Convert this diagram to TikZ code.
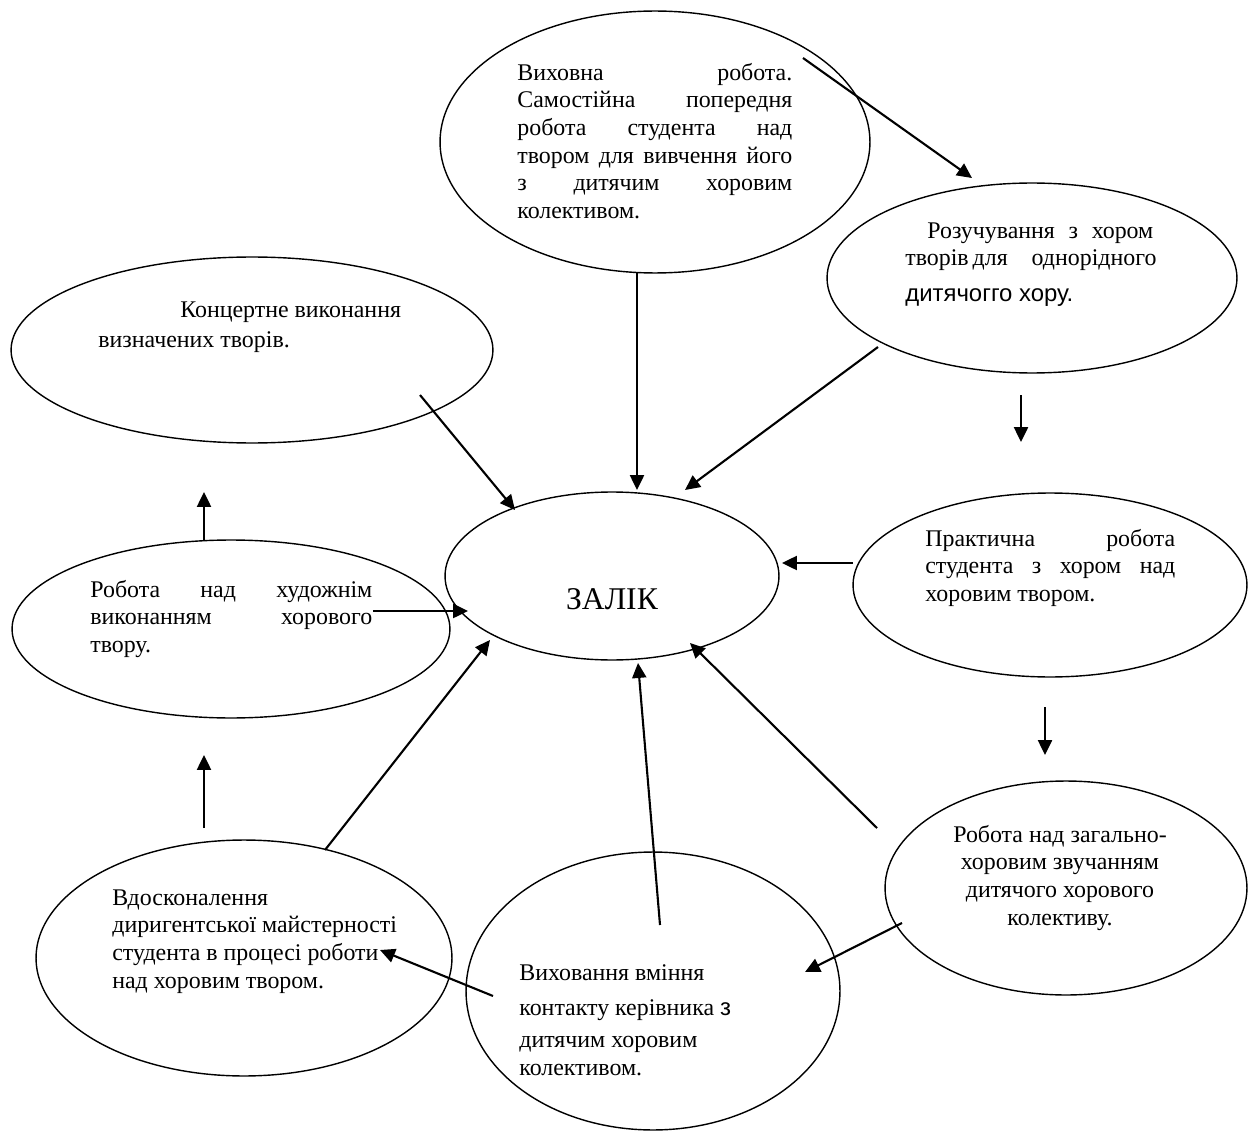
\documentclass[tikz,border=0pt]{standalone}
\usepackage{fontspec}
\setmainfont{Liberation Serif}
\setsansfont{Liberation Sans}
\usetikzlibrary{shapes.geometric,arrows.meta}
\tikzset{
  ell/.style={draw, ellipse, line width=0.8pt, inner sep=0pt},
  txt/.style={anchor=north west, inner sep=0pt, align=left, font=\fontsize{13.6}{15.7}\selectfont},
  ctxt/.style={anchor=north, inner sep=0pt, align=center, font=\fontsize{13.6}{15.7}\selectfont},
  arr/.style={line width=1.2pt, -{Triangle[length=8.5pt,width=8pt]}}
}
\begin{document}
\begin{tikzpicture}[x=0.02cm,y=-0.02cm]
\useasboundingbox (0,0) rectangle (1251,1135);
\fill[white] (0,0) rectangle (1251,1135);
% ellipses
\node[ell, minimum width=8.6cm, minimum height=5.24cm] (top) at (655,142) {};
\node[ell, minimum width=8.2cm, minimum height=3.8cm] (rozuch) at (1032,278) {};
\node[ell, minimum width=9.64cm, minimum height=3.72cm] (koncert) at (252,350) {};
\node[ell, minimum width=8.76cm, minimum height=3.56cm] (robota) at (231,629) {};
\node[ell, minimum width=6.68cm, minimum height=3.36cm] (zalik) at (612,576) {};
\node[ell, minimum width=7.88cm, minimum height=3.68cm] (prakt) at (1050,585) {};
\node[ell, minimum width=7.24cm, minimum height=4.28cm] (zagal) at (1066,888) {};
\node[ell, minimum width=8.32cm, minimum height=4.72cm] (vdosk) at (244,958) {};
\node[ell, minimum width=7.48cm, minimum height=5.56cm] (vyhov) at (653,991) {};
% texts
\node[txt] (t1) at (517,60.6) {\strut\makebox[5.5cm][s]{Виховна робота.}\\
\makebox[5.5cm][s]{Самостійна попередня}\\
\makebox[5.5cm][s]{робота студента над}\\
\makebox[5.5cm][s]{твором для вивчення його}\\
\makebox[5.5cm][s]{з дитячим хоровим}\\
колективом.};
\node[txt] (t2) at (905,218.6) {\strut\hspace*{0.44cm}\makebox[4.52cm][s]{Розучування з хором}\\
\makebox[4.96cm][s]{творів для\hspace{1em}однорідного}\\[4.5pt]
{\sffamily дитячогго хору.}};
\node[txt] (t3) at (98,297.6) {\strut\hspace*{1.64cm}Концертне виконання\\[1.3pt]
визначених творів.};
\node[txt] (t4) at (90,577.6) {\strut\makebox[5.64cm][s]{Робота над художнім}\\
\makebox[5.64cm][s]{виконанням хорового}\\
твору.};
\node[txt] (t6) at (925,526.6) {\strut\makebox[5.0cm][s]{Практична робота}\\
\makebox[5.0cm][s]{студента з хором над}\\
хоровим твором.};
\node[ctxt] (t7) at (1060,822.6) {\strut Робота над загально-\\
хоровим звучанням\\
дитячого хорового\\
колективу.};
\node[txt] (t8) at (112,885.6) {\strut Вдосконалення\\
диригентської майстерності\\
студента в процесі роботи\\
над хоровим твором.};
\node[txt] (t9) at (519,960.6) {\strut Виховання вміння\\[4.1pt]
контакту керівника {\sffamily з}\\[3pt]
дитячим хоровим\\
колективом.};
\node[inner sep=0pt, anchor=base, font=\fontsize{18}{22}\selectfont] (tz) at (612,609) {ЗАЛІК};
% arrow end points
\coordinate (aS) at (803,58);   \coordinate (aE) at (972,178);
\coordinate (bS) at (637,273);  \coordinate (bE) at (637,490);
\coordinate (cS) at (878,347);  \coordinate (cE) at (685,490);
\coordinate (dS) at (1021,395); \coordinate (dE) at (1021,442);
\coordinate (eS) at (420,395);  \coordinate (eE) at (515,510);
\coordinate (fS) at (204,540);  \coordinate (fE) at (204,492);
\coordinate (gS) at (373,611);  \coordinate (gE) at (468,611);
\coordinate (hS) at (853,563);  \coordinate (hE) at (782,563);
\coordinate (iS) at (1045,707); \coordinate (iE) at (1045,755);
\coordinate (jS) at (877,828);  \coordinate (jE) at (690,643);
\coordinate (kS) at (902,923);  \coordinate (kE) at (805,972);
\coordinate (lS) at (660,925);  \coordinate (lE) at (638,663);
\coordinate (mS) at (325,850);  \coordinate (mE) at (490,640);
\coordinate (nS) at (204,828);  \coordinate (nE) at (204,755);
\coordinate (oS) at (493,996);  \coordinate (oE) at (380,950);
\foreach \a in {a,b,c,d,e,f,g,h,i,j,k,l,m,n,o}
  \draw[arr] (\a S) -- (\a E);
\end{tikzpicture}
\end{document}
